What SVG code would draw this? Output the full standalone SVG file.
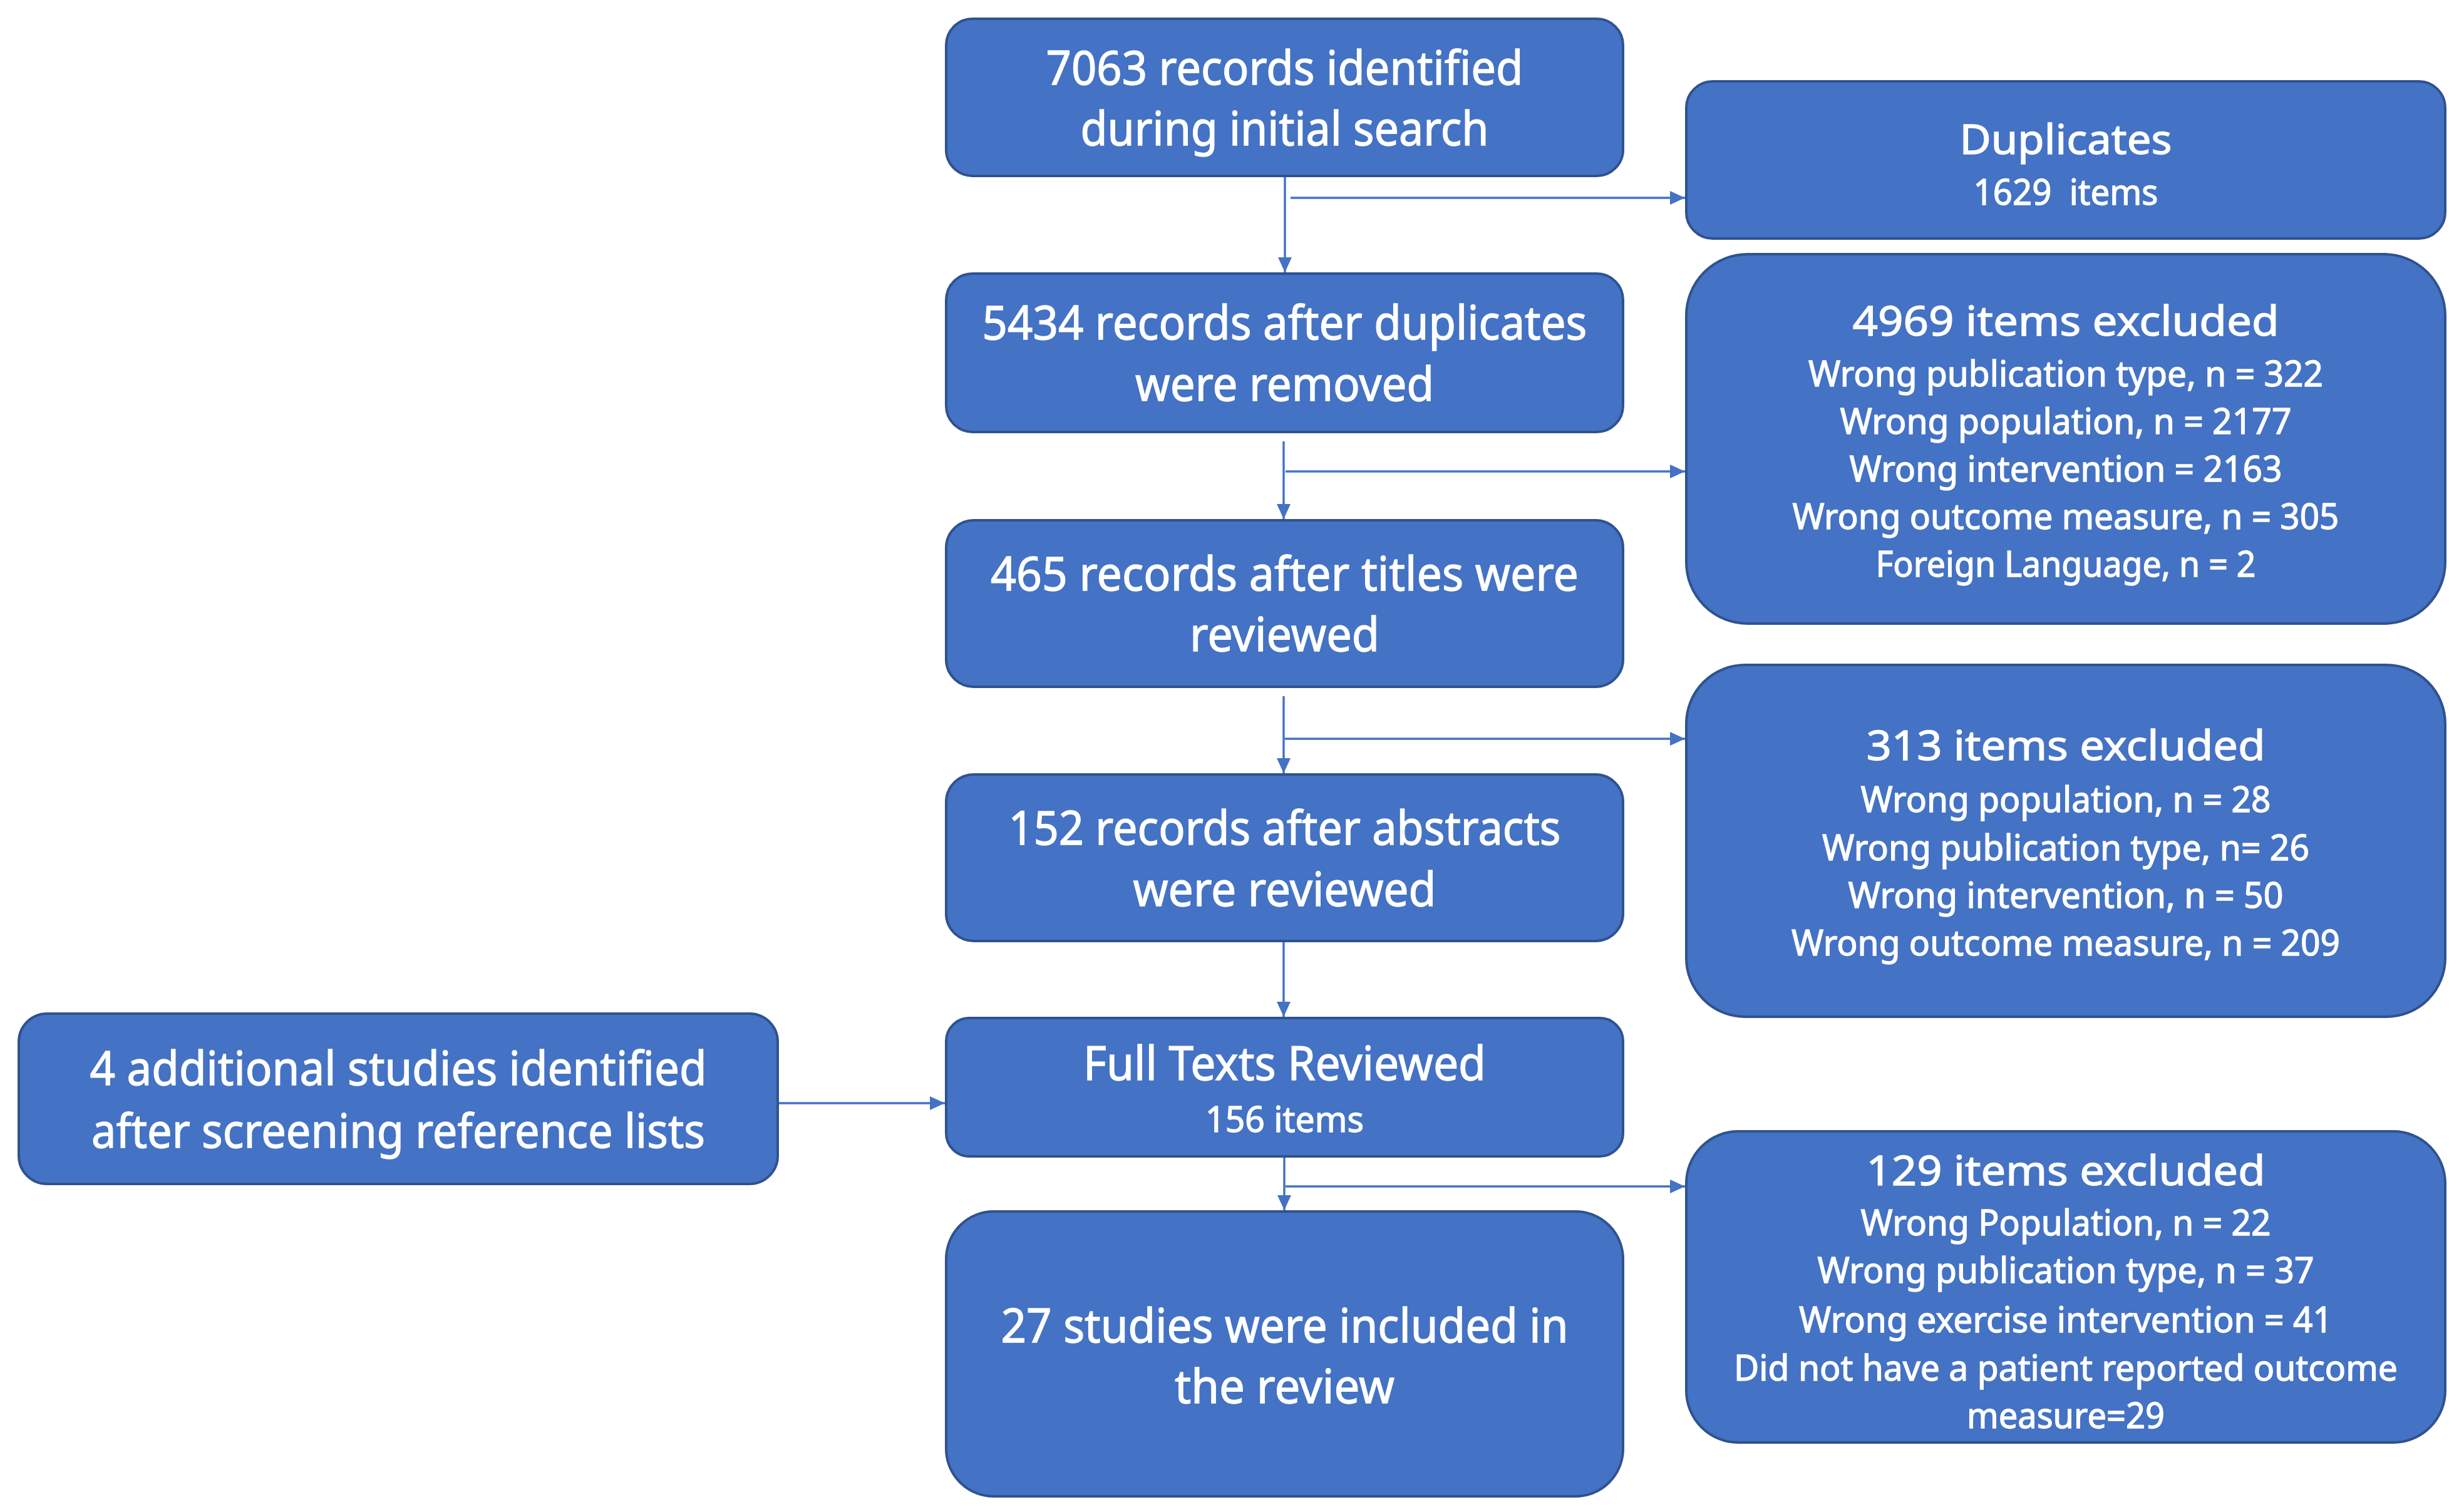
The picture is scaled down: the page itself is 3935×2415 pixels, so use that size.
<svg xmlns="http://www.w3.org/2000/svg" width="3935" height="2415" viewBox="0 0 3935 2415">
<style>
.box{fill:#4472C4;stroke:#2F528F;stroke-width:4}
.t{fill:#FFFFFF;stroke:#FFFFFF;stroke-width:1.3;font-family:"Noto Sans","Open Sans","Liberation Sans",sans-serif;text-anchor:middle;white-space:pre}
.m{font-size:75px}
.h{font-size:66px}
.s{font-size:56px}
.c{stroke:#4472C4;stroke-width:3.5;fill:none;marker-end:url(#ah)}
</style>
<defs>
<marker id="ah" markerUnits="userSpaceOnUse" markerWidth="24" markerHeight="22" refX="24" refY="11" orient="auto">
<path d="M0,0 L24,11 L0,22 Z" fill="#4472C4"/>
</marker>
</defs>
<rect width="3935" height="2415" fill="#FFFFFF"/>
<g id="connectors">
<line class="c" x1="2052" y1="281" x2="2052" y2="435"/>
<line class="c" x1="2061" y1="316" x2="2691" y2="316"/>
<line class="c" x1="2050" y1="705" x2="2050" y2="829"/>
<line class="c" x1="2053" y1="753" x2="2691" y2="753"/>
<line class="c" x1="2050" y1="1112" x2="2050" y2="1235"/>
<line class="c" x1="2052" y1="1180" x2="2691" y2="1180"/>
<line class="c" x1="2050" y1="1503" x2="2050" y2="1624"/>
<line class="c" x1="1243" y1="1762" x2="1509" y2="1762"/>
<line class="c" x1="2051" y1="1847" x2="2051" y2="1933"/>
<line class="c" x1="2053" y1="1895" x2="2691" y2="1895"/>
</g>
<g id="n-initial">
<rect class="box" x="1511" y="30" width="1081" height="251" rx="42"/>
<text class="t m" x="2051.5" y="135" textLength="762" lengthAdjust="spacingAndGlyphs">7063 records identified</text>
<text class="t m" x="2051.5" y="232" textLength="652" lengthAdjust="spacingAndGlyphs">during initial search</text>
</g>
<g id="n-duplicates">
<rect class="box" x="2693" y="130" width="1212" height="251" rx="42"/>
<text class="t h" x="3299" y="246" textLength="339" lengthAdjust="spacingAndGlyphs">Duplicates</text>
<text class="t s" x="3299" y="327" textLength="295" lengthAdjust="spacingAndGlyphs">1629  items</text>
</g>
<g id="n-dedup">
<rect class="box" x="1511" y="437" width="1081" height="253" rx="42"/>
<text class="t m" x="2051.5" y="542" textLength="966" lengthAdjust="spacingAndGlyphs">5434 records after duplicates</text>
<text class="t m" x="2051.5" y="640" textLength="477" lengthAdjust="spacingAndGlyphs">were removed</text>
</g>
<g id="n-excl1">
<rect class="box" x="2693" y="406" width="1212" height="590" rx="98"/>
<text class="t h" x="3299" y="536" textLength="681" lengthAdjust="spacingAndGlyphs">4969 items excluded</text>
<text class="t s" x="3299" y="617" textLength="822" lengthAdjust="spacingAndGlyphs">Wrong publication type, n = 322</text>
<text class="t s" x="3299" y="693" textLength="721" lengthAdjust="spacingAndGlyphs">Wrong population, n = 2177</text>
<text class="t s" x="3299" y="769" textLength="691" lengthAdjust="spacingAndGlyphs">Wrong intervention = 2163</text>
<text class="t s" x="3299" y="845" textLength="873" lengthAdjust="spacingAndGlyphs">Wrong outcome measure, n = 305</text>
<text class="t s" x="3299" y="921" textLength="607" lengthAdjust="spacingAndGlyphs">Foreign Language, n = 2</text>
</g>
<g id="n-titles">
<rect class="box" x="1511" y="831" width="1081" height="266" rx="44"/>
<text class="t m" x="2051.5" y="943" textLength="939" lengthAdjust="spacingAndGlyphs">465 records after titles were</text>
<text class="t m" x="2051.5" y="1040" textLength="303" lengthAdjust="spacingAndGlyphs">reviewed</text>
</g>
<g id="n-excl2">
<rect class="box" x="2693" y="1062" width="1212" height="562" rx="94"/>
<text class="t h" x="3299" y="1214" textLength="637" lengthAdjust="spacingAndGlyphs">313 items excluded</text>
<text class="t s" x="3299" y="1297" textLength="655" lengthAdjust="spacingAndGlyphs">Wrong population, n = 28</text>
<text class="t s" x="3299" y="1374" textLength="778" lengthAdjust="spacingAndGlyphs">Wrong publication type, n= 26</text>
<text class="t s" x="3299" y="1450" textLength="695" lengthAdjust="spacingAndGlyphs">Wrong intervention, n = 50</text>
<text class="t s" x="3299" y="1526" textLength="876" lengthAdjust="spacingAndGlyphs">Wrong outcome measure, n = 209</text>
</g>
<g id="n-abstracts">
<rect class="box" x="1511" y="1237" width="1081" height="266" rx="44"/>
<text class="t m" x="2051.5" y="1349" textLength="882" lengthAdjust="spacingAndGlyphs">152 records after abstracts</text>
<text class="t m" x="2051.5" y="1447" textLength="484" lengthAdjust="spacingAndGlyphs">were reviewed</text>
</g>
<g id="n-additional">
<rect class="box" x="30" y="1619" width="1212" height="272" rx="45"/>
<text class="t m" x="636" y="1733" textLength="985" lengthAdjust="spacingAndGlyphs">4 additional studies identified</text>
<text class="t m" x="636" y="1833" textLength="980" lengthAdjust="spacingAndGlyphs">after screening reference lists</text>
</g>
<g id="n-fulltext">
<rect class="box" x="1511" y="1626" width="1081" height="221" rx="37"/>
<text class="t m" x="2051.5" y="1725" textLength="643" lengthAdjust="spacingAndGlyphs">Full Texts Reviewed</text>
<text class="t s" x="2051.5" y="1808" textLength="253" lengthAdjust="spacingAndGlyphs">156 items</text>
</g>
<g id="n-excl3">
<rect class="box" x="2693" y="1807" width="1212" height="497" rx="83"/>
<text class="t h" x="3299" y="1893" textLength="637" lengthAdjust="spacingAndGlyphs">129 items excluded</text>
<text class="t s" x="3299" y="1973" textLength="655" lengthAdjust="spacingAndGlyphs">Wrong Population, n = 22</text>
<text class="t s" x="3299" y="2049" textLength="793" lengthAdjust="spacingAndGlyphs">Wrong publication type, n = 37</text>
<text class="t s" x="3299" y="2128" textLength="852" lengthAdjust="spacingAndGlyphs">Wrong exercise intervention = 41</text>
<text class="t s" x="3299" y="2205" textLength="1060" lengthAdjust="spacingAndGlyphs">Did not have a patient reported outcome</text>
<text class="t s" x="3299" y="2281" textLength="316" lengthAdjust="spacingAndGlyphs">measure=29</text>
</g>
<g id="n-included">
<rect class="box" x="1511" y="1935" width="1081" height="455" rx="76"/>
<text class="t m" x="2051.5" y="2144" textLength="906" lengthAdjust="spacingAndGlyphs">27 studies were included in</text>
<text class="t m" x="2051.5" y="2241" textLength="351" lengthAdjust="spacingAndGlyphs">the review</text>
</g>
</svg>
